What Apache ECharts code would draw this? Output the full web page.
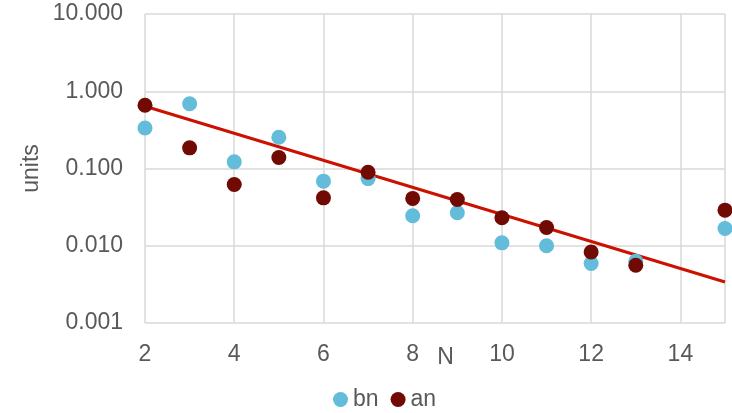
<!DOCTYPE html>
<html><head><meta charset="utf-8">
<script src="https://cdn.jsdelivr.net/npm/echarts@6/dist/echarts.min.js"></script>
<style>html,body{margin:0;padding:0;background:#fff}#c{width:732px;height:413px}</style>
</head><body><div id="c"></div>
<script>
var nValues = [2, 3, 4, 5, 6, 7, 8, 9, 10, 11, 12, 13, 15];
var bnValues = [0.335, 0.69, 0.122, 0.254, 0.0686, 0.074, 0.0245, 0.0267, 0.0109, 0.0100, 0.0059, 0.0063, 0.0167];
var anValues = [0.66, 0.185, 0.062, 0.139, 0.0417, 0.0895, 0.041, 0.0397, 0.023, 0.0172, 0.0083, 0.0056, 0.0289];
var trendX = [2, 15];
var trendY = [0.64, 0.0034];
var yTickLabels = ['0.001', '0.010', '0.100', '1.000', '10.000'];

function pairs(xs, ys){ return xs.map(function(x,i){ return [x, ys[i]]; }); }
var txt = '#595959', font = 'Liberation Sans, Arial, sans-serif', fs = 23;
var chart = echarts.init(document.getElementById('c'));
chart.setOption({
  animation: false,
  grid: {left: 145, right: 7, top: 14, bottom: 90},
  legend: {data: ['bn', 'an'], top: 383, left: 328, icon: 'circle', itemWidth: 15, itemHeight: 15, itemGap: 12,
    textStyle: {color: txt, fontSize: fs, fontFamily: font}},
  xAxis: {type: 'value', min: 2, max: 15, interval: 2,
    name: 'N', nameLocation: 'middle', nameGap: 23, nameMoveOverlap: false,
    nameTextStyle: {color: txt, fontSize: fs, fontFamily: font, padding: [0, 0, 0, 21]},
    axisLine: {show: false}, axisTick: {show: false},
    axisLabel: {color: txt, fontSize: fs, fontFamily: font, margin: 20, showMaxLabel: false},
    splitLine: {show: true, lineStyle: {color: '#D9D9D9', width: 1.5}}},
  yAxis: {type: 'log', logBase: 10, min: 0.001, max: 10,
    name: 'units', nameLocation: 'middle', nameGap: 102, nameMoveOverlap: false,
    nameTextStyle: {color: txt, fontSize: fs, fontFamily: font},
    axisLine: {show: false}, axisTick: {show: false},
    axisLabel: {color: txt, fontSize: fs, fontFamily: font, margin: 22,
      formatter: function(v){ var k = Math.round(Math.log10(v)) + 3; return yTickLabels[k] || ''; }},
    splitLine: {show: true, lineStyle: {color: '#D9D9D9', width: 1.5}}},
  series: [
    {name: 'trend', type: 'line', data: pairs(trendX, trendY), showSymbol: false, symbol: 'none',
      lineStyle: {color: '#CC1100', width: 3}, z: 1, silent: true},
    {name: 'bn', type: 'scatter', data: pairs(nValues, bnValues), symbolSize: 15,
      itemStyle: {color: '#62BCDA', opacity: 1}, z: 2},
    {name: 'an', type: 'scatter', data: pairs(nValues, anValues), symbolSize: 15,
      itemStyle: {color: '#700A02', opacity: 1}, z: 3}
  ]
});
</script></body></html>
